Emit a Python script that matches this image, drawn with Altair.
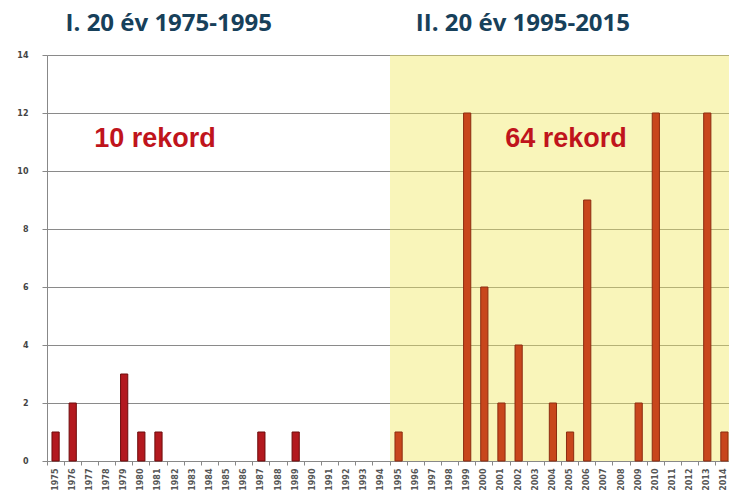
import altair as alt
import pandas as pd

years = ["1975", "1976", "1977", "1978", "1979", "1980", "1981", "1982", "1983", "1984",
         "1985", "1986", "1987", "1988", "1989", "1990", "1991", "1992", "1993", "1994",
         "1995", "1996", "1997", "1998", "1999", "2000", "2001", "2002", "2003", "2004",
         "2005", "2006", "2007", "2008", "2009", "2010", "2011", "2012", "2013", "2014"]
records = [1, 2, 0, 0, 3, 1, 1, 0, 0, 0, 0, 0, 1, 0, 1, 0, 0, 0, 0, 0,
           1, 0, 0, 0, 12, 6, 2, 4, 0, 2, 1, 9, 0, 0, 2, 12, 0, 0, 12, 1]
periods = ["I"] * 20 + ["II"] * 20

period_names = ["I", "II"]
bar_fill = ["#b3191f", "#c8461c"]
bar_stroke = ["#6e0c0c", "#8c2c10"]

titles = ["I. 20 év 1975-1995", "II. 20 év 1995-2015"]
title_years = ["1982", "2002"]
title_values = [14.82, 14.82]

notes = ["10 rekord", "64 rekord"]
note_years = ["1981", "2005"]
note_values = [11.1, 11.1]

highlight_start = ["1995"]

df = pd.DataFrame({"year": years, "n": records, "period": periods})
df_t1 = pd.DataFrame({"year": title_years[:1], "v": title_values[:1], "t": titles[:1]})
df_t2 = pd.DataFrame({"year": title_years[1:], "v": title_values[1:], "t": titles[1:]})
df_n1 = pd.DataFrame({"year": note_years[:1], "v": note_values[:1], "t": notes[:1]})
df_n2 = pd.DataFrame({"year": note_years[1:], "v": note_values[1:], "t": notes[1:]})
df_hl = pd.DataFrame({"year": highlight_start})

xscale = alt.Scale(domain=years, paddingInner=0, paddingOuter=0)
yscale = alt.Scale(domain=[0, 14], nice=False)

xaxis = alt.Axis(labelAngle=270, labelFontSize=8, labelFont="DejaVu Sans", labelFontWeight="bold",
                 labelColor="#555555", bandPosition=0, tickSize=4, tickColor="#888888",
                 domainColor="#888888", labelPadding=3, title=None, grid=False, labelBaseline="middle",
                 labelAlign="right")
yaxis = alt.Axis(values=[0, 2, 4, 6, 8, 10, 12, 14], labelFontSize=8, labelFont="DejaVu Sans",
                 labelFontWeight="bold", labelColor="#444444", tickSize=5, tickColor="#888888",
                 domainColor="#888888", labelPadding=14, title=None, grid=True, gridColor="#8a8a8a",
                 gridWidth=1)

base = alt.Chart(df)

grid = base.mark_bar(opacity=0).encode(
    x=alt.X("year:O", scale=xscale, axis=xaxis),
    y=alt.Y("n:Q", scale=yscale, axis=yaxis),
)

hl = alt.Chart(df_hl).mark_rect(color="#f1e85a", opacity=0.42).encode(
    x=alt.X("year:O", scale=xscale, bandPosition=0),
    x2=alt.value("width"),
    y=alt.value(0),
    y2=alt.value("height"),
)

bars = base.transform_filter("datum.n > 0").mark_bar(width=alt.RelativeBandSize(0.42), strokeWidth=1).encode(
    x=alt.X("year:O", scale=xscale),
    y=alt.Y("n:Q", scale=yscale),
    color=alt.Color("period:N", scale=alt.Scale(domain=period_names, range=bar_fill), legend=None),
    stroke=alt.Stroke("period:N", scale=alt.Scale(domain=period_names, range=bar_stroke), legend=None),
)

title_style = dict(font="Open Sans", fontSize=24, fontWeight="bold", color="#17405a", baseline="alphabetic")
t1 = alt.Chart(df_t1).mark_text(**title_style).encode(
    x=alt.X("year:O", scale=xscale, bandPosition=0.1),
    y=alt.Y("v:Q", scale=yscale),
    text="t:N",
)
t2 = alt.Chart(df_t2).mark_text(**title_style).encode(
    x=alt.X("year:O", scale=xscale, bandPosition=0.75),
    y=alt.Y("v:Q", scale=yscale),
    text="t:N",
)

note_style = dict(font="Liberation Sans", fontSize=27, fontWeight="bold", color="#c0141c", baseline="middle")
n1 = alt.Chart(df_n1).mark_text(**note_style).encode(
    x=alt.X("year:O", scale=xscale, bandPosition=0.3),
    y=alt.Y("v:Q", scale=yscale),
    text="t:N",
)
n2 = alt.Chart(df_n2).mark_text(**note_style).encode(
    x=alt.X("year:O", scale=xscale, bandPosition=0.26),
    y=alt.Y("v:Q", scale=yscale),
    text="t:N",
)

chart = alt.layer(grid, hl, bars, t1, t2, n1, n2).properties(
    width=686, height=406,
    autosize=alt.AutoSizeParams(type="none"),
    padding={"left": 39, "top": 47, "right": -4, "bottom": 29},
).configure_view(stroke=None).configure(background="white")

chart.save("out.html", embed_options={"renderer": "svg", "actions": False})
